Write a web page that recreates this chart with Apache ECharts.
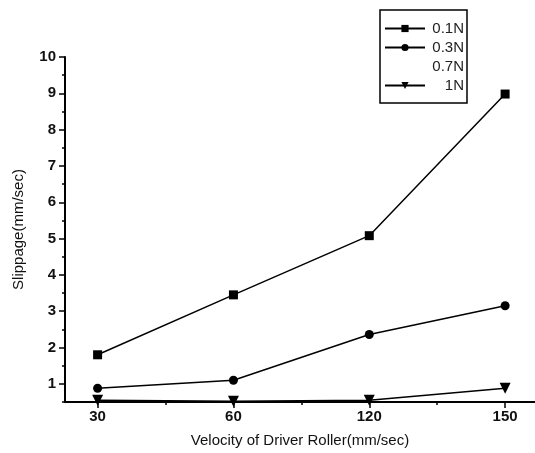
<!DOCTYPE html>
<html><head><meta charset="utf-8">
<script src="https://cdn.jsdelivr.net/npm/echarts@6/dist/echarts.min.js"></script>
<style>html,body{margin:0;padding:0;background:#fff}#c{width:535px;height:453px}</style>
</head><body><div id="c"></div>
<script>
var categories = ['30', '60', '120', '150'];
var s01 = [1.8, 3.45, 5.08, 8.98];
var s03 = [0.88, 1.1, 2.36, 3.15];
var s07 = [];
var s1 = [0.55, 0.52, 0.55, 0.88];
var yLabels = [1, 2, 3, 4, 5, 6, 7, 8, 9, 10];

function pts(arr) { return arr.map(function (v, i) { return [i, v]; }); }
var majorY = yLabels.slice();
var minorY = [];
for (var k = 0; k < yLabels.length; k++) minorY.push(yLabels[k] - 0.5);
var majorX = categories.map(function (c, i) { return i; });
var minorX = [0.5, 1.5, 2.5];
var font = 'Liberation Sans, Arial, sans-serif';
var chart = echarts.init(document.getElementById('c'));
function lineSeries(name, data, symbol, size) {
  return {
    name: name, type: 'line', data: pts(data), symbol: symbol, symbolSize: size,
    showAllSymbol: true, xAxisIndex: 0, yAxisIndex: 0,
    lineStyle: { color: '#000', width: 1.5 }, itemStyle: { color: '#000' },
    emphasis: { disabled: true }, animation: false, clip: false
  };
}
chart.setOption({
  animation: false,
  grid: { left: 65, right: 0, top: 57, bottom: 51 },
  legend: {
    right: 68, top: 10, orient: 'vertical', itemWidth: 40, itemHeight: 9, itemGap: 4,
    padding: [11, 3, 10, 4],
    borderColor: '#000', borderWidth: 1.5,
    data: [{ name: '0.1N' }, { name: '0.3N' }, { name: '0.7N', icon: 'none' }, { name: '1N' }],
    formatter: function (n) { return '{a|' + n + '}'; },
    textStyle: { color: '#222', fontFamily: font, fontSize: 15, lineHeight: 15,
      rich: { a: { width: 34, align: 'right', fontSize: 15, lineHeight: 15, fontFamily: font, color: '#222' } } }
  },
  xAxis: [{
    type: 'value', min: -0.24, max: 3.22,
    name: 'Velocity of Driver Roller(mm/sec)', nameLocation: 'middle', nameGap: 31,
    nameTextStyle: { fontFamily: font, fontSize: 15, color: '#111' },
    axisLine: { onZero: false, lineStyle: { color: '#000', width: 2 } },
    axisTick: { customValues: majorX, length: 6, lineStyle: { color: '#000', width: 1.5 } },
    axisLabel: { customValues: majorX, formatter: function (v) { return categories[Math.round(v)]; },
      margin: 7, fontFamily: font, fontSize: 15, fontWeight: 'bold', color: '#111' },
    splitLine: { show: false }
  }, {
    type: 'value', min: -0.24, max: 3.22, position: 'bottom',
    axisLine: { show: false, onZero: false },
    axisTick: { customValues: minorX, length: 3, lineStyle: { color: '#000', width: 1.5 } },
    axisLabel: { show: false }, splitLine: { show: false }
  }],
  yAxis: [{
    type: 'value', min: 0.5, max: 10,
    name: 'Slippage(mm/sec)', nameLocation: 'middle', nameGap: 39,
    nameTextStyle: { fontFamily: font, fontSize: 15, color: '#111' },
    axisLine: { show: true, onZero: false, lineStyle: { color: '#000', width: 2 } },
    axisTick: { show: true, customValues: majorY, length: 6, lineStyle: { color: '#000', width: 1.5 } },
    axisLabel: { customValues: yLabels, margin: 9, fontFamily: font, fontSize: 15, fontWeight: 'bold', color: '#111' },
    splitLine: { show: false }
  }, {
    type: 'value', min: 0.5, max: 10, position: 'left',
    axisLine: { show: false, onZero: false },
    axisTick: { show: true, customValues: minorY, length: 3, lineStyle: { color: '#000', width: 1.5 } },
    axisLabel: { show: false }, splitLine: { show: false }
  }],
  series: [
    lineSeries('0.1N', s01, 'rect', 9),
    lineSeries('0.3N', s03, 'circle', 9),
    lineSeries('0.7N', s07, 'none', 0),
    lineSeries('1N', s1, 'path://M0,0 L10,0 L5,9 Z', 11)
  ]
});
</script></body></html>
